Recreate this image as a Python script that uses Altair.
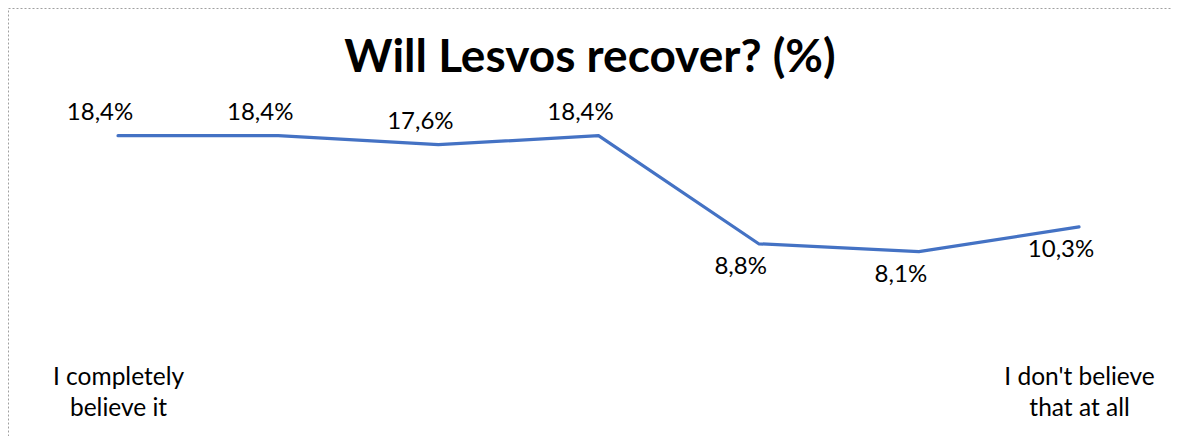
import json
import altair as alt
import pandas as pd

# ---- data ----
categories = [1, 2, 3, 4, 5, 6, 7]
values = [18.4, 18.4, 17.6, 18.4, 8.8, 8.1, 10.3]
tick_labels = ["I completely\nbelieve it", "", "", "", "", "", "I don't believe\nthat at all"]
title_text = "Will Lesvos recover? (%)"

df = pd.DataFrame({"cat": categories, "v": values})

label_expr = "split(" + json.dumps(tick_labels) + "[datum.value - 1], '\\n')"

x = alt.X(
    "cat:O",
    scale=alt.Scale(type="point", padding=0.6337, align=0.542),
    axis=alt.Axis(
        title=None, labelAngle=0, domain=False, ticks=False, grid=False,
        labelExpr=label_expr, labelFont="Lato", labelFontSize=24.5,
        labelColor="#000000", labelLineHeight=31.6, labelBaseline="top",
        labelPadding=0, offset=-71,
    ),
)
y = alt.Y("v:Q", scale=alt.Scale(domain=[-8.27, 29.74], nice=False, zero=False), axis=None)

base = alt.Chart(df).encode(x=x, y=y)

line = base.mark_line(color="#4472C4", strokeWidth=3.2, strokeJoin="round", strokeCap="round")

lab = base.transform_calculate(
    txt="replace(format(datum.v, '.1f'), '.', ',') + '%'"
)
above = lab.transform_filter("datum.cat <= 4").mark_text(
    font="Lato", fontSize=24, color="#000000", baseline="middle", dy=-23, dx=-18
).encode(text="txt:N")
below = lab.transform_filter("datum.cat > 4").mark_text(
    font="Lato", fontSize=24, color="#000000", baseline="middle", dy=23, dx=-18
).encode(text="txt:N")

chart = alt.layer(line, above, below).properties(
    width=1164,
    height=428,
    padding=0,
    background="white",
    title=alt.TitleParams(
        title_text, font="Lato", fontSize=46, fontWeight="bold", color="#000000",
        anchor="middle", baseline="alphabetic", offset=-110,
    ),
).configure_view(
    stroke="#A0A0A0", strokeWidth=1, strokeDash=[2, 2]
)

chart.save("out.html", embed_options={"renderer": "svg", "actions": False})
